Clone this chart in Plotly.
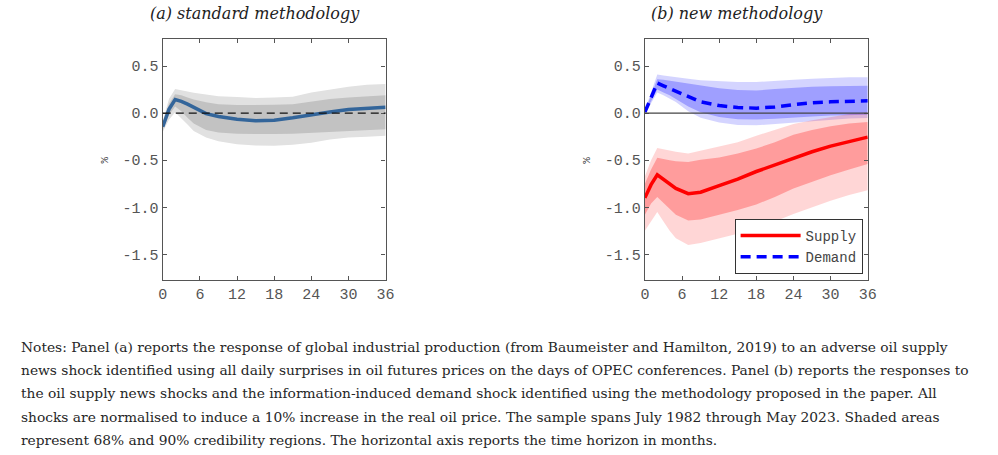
import plotly.graph_objects as go

# ---------------- data ----------------
months = [0, 1, 2, 3, 4, 5, 7, 9, 12, 15, 18, 21, 24, 27, 30, 33, 36]

# Panel (a): standard methodology
ip_response = [-0.145, 0.04, 0.145, 0.125, 0.095, 0.06, -0.005, -0.035, -0.065, -0.08, -0.075, -0.05, -0.015, 0.012, 0.038, 0.052, 0.062]
ip_68_upper = [-0.11, 0.10, 0.20, 0.19, 0.165, 0.145, 0.115, 0.095, 0.085, 0.085, 0.088, 0.095, 0.12, 0.15, 0.165, 0.18, 0.19]
ip_68_lower = [-0.18, -0.02, 0.07, 0.02, -0.05, -0.11, -0.18, -0.205, -0.22, -0.223, -0.223, -0.22, -0.21, -0.20, -0.19, -0.18, -0.17]
ip_90_upper = [-0.09, 0.15, 0.255, 0.245, 0.23, 0.215, 0.195, 0.18, 0.17, 0.16, 0.165, 0.175, 0.22, 0.25, 0.28, 0.30, 0.31]
ip_90_lower = [-0.20, -0.07, 0.01, -0.05, -0.12, -0.19, -0.26, -0.30, -0.33, -0.345, -0.347, -0.335, -0.315, -0.28, -0.26, -0.25, -0.24]

# Panel (b): new methodology
demand = [0.01, 0.17, 0.32, 0.29, 0.26, 0.23, 0.17, 0.12, 0.08, 0.06, 0.053, 0.065, 0.09, 0.11, 0.12, 0.128, 0.13]
demand_68_upper = [0.02, 0.20, 0.36, 0.355, 0.345, 0.335, 0.31, 0.29, 0.265, 0.245, 0.24, 0.255, 0.27, 0.28, 0.285, 0.29, 0.29]
demand_68_lower = [0.0, 0.12, 0.25, 0.22, 0.19, 0.15, 0.07, 0.01, -0.04, -0.065, -0.067, -0.06, -0.045, -0.035, -0.025, -0.02, -0.018]
demand_90_upper = [0.03, 0.22, 0.41, 0.40, 0.39, 0.38, 0.365, 0.35, 0.34, 0.33, 0.33, 0.345, 0.355, 0.365, 0.375, 0.38, 0.38]
demand_90_lower = [-0.01, 0.10, 0.22, 0.19, 0.15, 0.117, 0.02, -0.05, -0.10, -0.125, -0.13, -0.115, -0.095, -0.08, -0.068, -0.058, -0.053]

supply = [-0.90, -0.76, -0.655, -0.70, -0.75, -0.80, -0.855, -0.84, -0.77, -0.70, -0.62, -0.55, -0.475, -0.41, -0.35, -0.30, -0.255]
supply_68_upper = [-0.75, -0.60, -0.475, -0.49, -0.50, -0.51, -0.52, -0.495, -0.47, -0.43, -0.375, -0.31, -0.23, -0.18, -0.14, -0.11, -0.095]
supply_68_lower = [-1.08, -0.96, -0.89, -0.95, -1.02, -1.08, -1.14, -1.13, -1.08, -1.03, -0.97, -0.89, -0.80, -0.73, -0.66, -0.60, -0.54]
supply_90_upper = [-0.67, -0.50, -0.37, -0.385, -0.40, -0.41, -0.43, -0.40, -0.35, -0.31, -0.24, -0.18, -0.115, -0.075, -0.04, -0.01, 0.01]
supply_90_lower = [-1.25, -1.15, -1.05, -1.15, -1.25, -1.33, -1.40, -1.38, -1.33, -1.28, -1.22, -1.15, -1.07, -1.00, -0.93, -0.87, -0.82]

x_ticks = [0, 6, 12, 18, 24, 30, 36]
y_ticks = [0.5, 0.0, -0.5, -1.0, -1.5]
y_tick_labels = ["0.5", "0.0", "-0.5", "-1.0", "-1.5"]

panel_titles = ["(a) standard methodology", "(b) new methodology"]
notes_lines = [
    "Notes: Panel (a) reports the response of global industrial production (from Baumeister and Hamilton, 2019) to an adverse oil supply",
    "news shock identified using all daily surprises in oil futures prices on the days of OPEC conferences. Panel (b) reports the responses to",
    "the oil supply news shocks and the information-induced demand shock identified using the methodology proposed in the paper. All",
    "shocks are normalised to induce a 10% increase in the real oil price. The sample spans July 1982 through May 2023. Shaded areas",
    "represent 68% and 90% credibility regions. The horizontal axis reports the time horizon in months.",
]

# ---------------- figure ----------------
W, H = 998, 455


def fx(px):
    return px / W


def fy(py):
    return 1 - py / H


fig = go.Figure()


def band(lower, upper, color, xa, ya):
    fig.add_trace(go.Scatter(x=months, y=lower, mode="lines", line=dict(width=0),
                             hoverinfo="skip", showlegend=False, xaxis=xa, yaxis=ya))
    fig.add_trace(go.Scatter(x=months, y=upper, mode="lines", line=dict(width=0),
                             fill="tonexty", fillcolor=color, hoverinfo="skip",
                             showlegend=False, xaxis=xa, yaxis=ya))


# Panel (a)
band(ip_90_lower, ip_90_upper, "#e1e1e1", "x", "y")
band(ip_68_lower, ip_68_upper, "#c2c2c2", "x", "y")
fig.add_trace(go.Scatter(x=months, y=ip_response, mode="lines",
                         line=dict(color="#33659a", width=3.5),
                         showlegend=False, xaxis="x", yaxis="y"))

# Panel (b)
band(demand_90_lower, demand_90_upper, "rgba(0,0,255,0.17)", "x2", "y2")
band(demand_68_lower, demand_68_upper, "rgba(0,0,255,0.25)", "x2", "y2")
band(supply_90_lower, supply_90_upper, "rgba(255,0,0,0.16)", "x2", "y2")
band(supply_68_lower, supply_68_upper, "rgba(255,0,0,0.27)", "x2", "y2")
fig.add_trace(go.Scatter(x=months, y=supply, mode="lines", name="Supply",
                         line=dict(color="#ff0000", width=3.5),
                         xaxis="x2", yaxis="y2"))
fig.add_trace(go.Scatter(x=months, y=demand, mode="lines", name="Demand",
                         line=dict(color="#0000ff", width=3.5, dash="10px,6px"),
                         xaxis="x2", yaxis="y2"))

# zero lines
fig.add_shape(type="line", xref="x domain", yref="y", x0=0, x1=1, y0=0, y1=0,
              line=dict(color="#111111", width=1.2, dash="8px,5px"), layer="above")
fig.add_shape(type="line", xref="x2 domain", yref="y2", x0=0, x1=1, y0=0, y1=0,
              line=dict(color="#444444", width=1.3), layer="above")

tick_font = dict(family="Liberation Mono, Courier New, monospace", size=15, color="#555555")
axis_common = dict(showline=True, linecolor="#555555", linewidth=1.3, mirror="ticks",
                   ticks="inside", ticklen=4, tickcolor="#555555", tickwidth=1,
                   showgrid=False, zeroline=False, tickfont=tick_font)

ylo, yhi = -1.772, 0.787
top_px, bot_px = 39, 280
ydom = [fy(bot_px), fy(top_px)]

fig.update_layout(
    width=W, height=H,
    margin=dict(l=0, r=0, t=0, b=0),
    paper_bgcolor="white", plot_bgcolor="white",
    xaxis=dict(domain=[fx(160), fx(386)], range=[0, 36], tickvals=x_ticks, anchor="y", **axis_common),
    yaxis=dict(domain=ydom, range=[ylo, yhi], tickvals=y_ticks, ticktext=y_tick_labels, anchor="x", **axis_common),
    xaxis2=dict(domain=[fx(649), fx(875)], range=[0, 36], tickvals=x_ticks, anchor="y2", **axis_common),
    yaxis2=dict(domain=ydom, range=[ylo, yhi], tickvals=y_ticks, ticktext=y_tick_labels, anchor="x2", **axis_common),
    showlegend=True,
    legend=dict(x=fx(740), y=fy(219), xanchor="left", yanchor="top", traceorder="normal",
                bgcolor="white", bordercolor="#333333", borderwidth=1,
                font=dict(family="Liberation Mono, Courier New, monospace", size=14, color="#444444"),
                itemwidth=60, tracegroupgap=0),
)

annotations = []
# panel titles
for title, cx in zip(panel_titles, [253.5, 742]):
    annotations.append(dict(text=f"<i>{title}</i>", x=fx(cx), y=fy(13), xref="paper", yref="paper",
                            xanchor="center", yanchor="middle", showarrow=False,
                            font=dict(family="DejaVu Serif, serif", size=16, color="#222222")))
# y axis label
for cx in [101, 590]:
    annotations.append(dict(text="%", x=fx(cx), y=fy(160), xref="paper", yref="paper",
                            xanchor="center", yanchor="middle", showarrow=False, textangle=-90,
                            font=dict(family="Liberation Mono, monospace", size=11, color="#444444")))
# notes
for i, line in enumerate(notes_lines):
    annotations.append(dict(text=line, x=fx(14), y=fy(347 + i * 23.2), xref="paper", yref="paper",
                            xanchor="left", yanchor="middle", showarrow=False,
                            font=dict(family="DejaVu Serif, serif", size=13.8, color="#262626")))
fig.update_layout(annotations=annotations)

# remove the default 8px page margin so the figure fills the window exactly
fig.write_html("out.html", config={"displayModeBar": False},
               post_script="document.body.style.margin='0px';")
